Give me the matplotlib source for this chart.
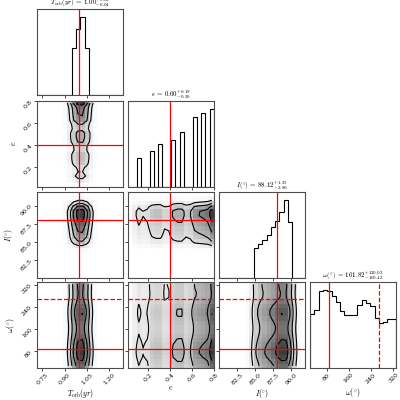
import numpy as np
import matplotlib
matplotlib.use("Agg")
import matplotlib.pyplot as plt

plt.rcParams['mathtext.fontset'] = 'cm'
plt.rcParams['font.family'] = 'DejaVu Serif'

# parameter names, ranges, truths
labels = [r'$T_{\rm orb}(yr)$', r'$e$', r'$I(^{\circ})$', r'$\omega(^{\circ})$']
titles = [r'$T_{\rm orb}(yr)\,=\,1.00^{+0.03}_{-0.04}$',
          r'$e\,=\,0.60^{+0.19}_{-0.30}$',
          r'$I(^{\circ})\,=\,88.12^{+1.35}_{-2.80}$',
          r'$\omega(^{\circ})\,=\,161.82^{+120.03}_{-100.42}$']
ranges = [(0.716, 1.295), (0.02, 0.80), (80.0, 91.9), (20.0, 330.0)]
ticks = [[0.75, 0.90, 1.05, 1.20], [0.2, 0.4, 0.6, 0.8],
         [82.5, 85.0, 87.5, 90.0], [80, 160, 240, 320]]
ticklabels = [['0.75', '0.90', '1.05', '1.20'], ['0.2', '0.4', '0.6', '0.8'],
              ['82.5', '85.0', '87.5', '90.0'], ['80', '160', '240', '320']]
truths = [1.0, 0.4, 88.0, 90.0]
omega_alt = 270.0

# marginal histogram counts (20 bins over each range)
T_counts = [0, 0, 0, 0, 0, 0, 0, 0, 60, 85, 100, 60, 0, 0, 0, 0, 0, 0, 0, 0]
e_counts = [0, 0, 86, 0, 0, 108, 0, 128, 0, 0, 140, 0, 164, 0, 0, 208, 0, 220, 0, 233]
I_counts = [0, 0, 0, 0, 0, 0, 0, 0, 90, 102, 114, 130, 152, 170, 198, 235, 168, 0, 0, 0]
w_counts = [165, 177, 233, 237, 232, 218, 200, 172, 160, 160,
            162, 190, 205, 198, 188, 152, 135, 138, 150, 150]
counts = [T_counts, e_counts, I_counts, w_counts]


def smooth(c, w):
    c = np.asarray(c, float)
    k = np.exp(-0.5 * (np.arange(-4, 5) / w) ** 2)
    k /= k.sum()
    return np.convolve(np.pad(c, 4, mode='edge'), k, mode='valid')


fig = plt.figure(figsize=(4, 4), dpi=100)
lefts = [0.093, 0.320, 0.548, 0.775]
bottoms = [0.762, 0.533, 0.305, 0.080]
size = 0.215
n = 4
for i in range(n):
    for j in range(i + 1):
        ax = fig.add_axes([lefts[j], bottoms[i], size, size])
        xr = ranges[j]
        edges_x = np.linspace(xr[0], xr[1], 21)
        if i == j:
            ax.stairs(counts[i], edges_x, color='k', lw=0.8)
            ax.set_ylim(0, max(counts[i]) * 1.1)
            ax.set_yticks([])
            ax.axvline(truths[i], color='red', lw=0.9)
            if i == 3:
                ax.axvline(omega_alt, color='red', lw=0.9, ls='--')
            ax.set_title(titles[i], fontsize=5, pad=1)
        else:
            yr = ranges[i]
            edges_y = np.linspace(yr[0], yr[1], 21)
            dx = smooth(counts[j], 1.0)
            dy = smooth(counts[i], 1.0)
            dens = np.outer(dy, dx)
            dens /= dens.max()
            ax.pcolormesh(edges_x, edges_y, dens, cmap='gray_r', vmin=0, vmax=1.3)
            cx = 0.5 * (edges_x[1:] + edges_x[:-1])
            cy = 0.5 * (edges_y[1:] + edges_y[:-1])
            ax.contour(cx, cy, dens, levels=[0.15, 0.35, 0.6, 0.85],
                       colors='k', linewidths=0.8)
            ax.axvline(truths[j], color='red', lw=0.9)
            ax.axhline(truths[i], color='red', lw=0.9)
            if i == 3:
                ax.axhline(omega_alt, color='red', lw=0.9, ls='--')
            ax.set_ylim(yr)
            ax.set_yticks(ticks[i])
            if j == 0:
                ax.set_yticklabels(ticklabels[i], rotation=45, fontsize=4.5)
                ax.set_ylabel(labels[i], fontsize=5.5, labelpad=3)
            else:
                ax.set_yticklabels([])
        ax.set_xlim(xr)
        ax.set_xticks(ticks[j])
        if i == n - 1:
            ax.set_xticklabels(ticklabels[j], rotation=45, fontsize=4.5)
            ax.set_xlabel(labels[j], fontsize=5.5, labelpad=1)
        else:
            ax.set_xticklabels([])
        ax.tick_params(length=2, width=0.5, pad=1)
        for s in ax.spines.values():
            s.set_linewidth(0.8)
            s.set_color('0.3')

fig.savefig('out.png', dpi=100, facecolor='white')
